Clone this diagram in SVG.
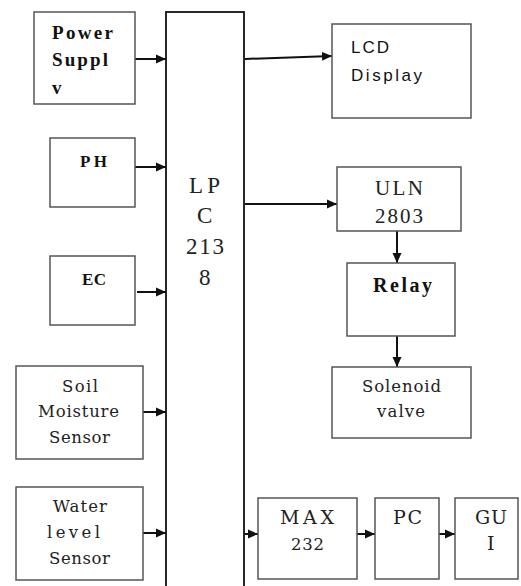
<svg xmlns="http://www.w3.org/2000/svg" width="521" height="586" viewBox="0 0 521 586">
<style>
.box{fill:#fff;stroke:#555;stroke-width:1.5}
.mcu{fill:#fff;stroke:#111;stroke-width:1.8}
.c{stroke:#111;stroke-width:2;fill:none;marker-end:url(#ah)}
.bs{font-family:"Liberation Serif",serif;font-weight:bold;fill:#111}
.s{font-family:"DejaVu Serif",serif;font-size:16.5px;fill:#222}
.s2{font-family:"DejaVu Serif",serif;font-size:19px;fill:#222}
.ss{font-family:"Liberation Sans",sans-serif;font-size:17px;fill:#111}
.ls{font-family:"Liberation Serif",serif;fill:#222}
</style>
<defs>
<marker id="ah" markerUnits="userSpaceOnUse" markerWidth="11" markerHeight="10" refX="10" refY="5" orient="auto">
<path d="M0,0.5 L10,5 L0,9.5 Z" fill="#111"/>
</marker>
</defs>
<g id="connectors">
<line class="c" x1="135" y1="59" x2="166" y2="59"/>
<line class="c" x1="135" y1="167" x2="166" y2="167"/>
<line class="c" x1="137" y1="292" x2="166" y2="292"/>
<line class="c" x1="143" y1="412" x2="166" y2="412"/>
<line class="c" x1="143" y1="533" x2="166" y2="533"/>
<line class="c" x1="245" y1="59" x2="332" y2="56"/>
<line class="c" x1="245" y1="204" x2="337" y2="204"/>
<line class="c" x1="397" y1="231" x2="397" y2="263"/>
<line class="c" x1="397" y1="336" x2="397" y2="367"/>
<line class="c" x1="245" y1="534" x2="258" y2="534"/>
<line class="c" x1="357" y1="534" x2="375" y2="534"/>
<line class="c" x1="439" y1="534" x2="455" y2="534"/>
</g>
<g id="lpc">
<rect class="mcu" x="166" y="12" width="78" height="590"/>
<text class="ls" font-size="23" x="189" y="193" textLength="31">LP</text>
<text class="ls" font-size="23" x="197" y="223">C</text>
<text class="ls" font-size="23" x="186" y="254" textLength="38">213</text>
<text class="ls" font-size="23" x="199" y="285">8</text>
</g>
<g id="power">
<rect class="box" x="34" y="12" width="101" height="92"/>
<text class="bs" font-size="19" x="52" y="39" textLength="61">Power</text>
<text class="bs" font-size="19" x="52" y="66" textLength="56">Suppl</text>
<text class="bs" font-size="19" x="52" y="94">v</text>
</g>
<g id="ph">
<rect class="box" x="50" y="138" width="85" height="69"/>
<text class="bs" font-size="17" x="80" y="167" textLength="27">PH</text>
</g>
<g id="ec">
<rect class="box" x="50" y="256" width="85" height="69"/>
<text class="bs" font-size="17" x="82" y="285" textLength="24">EC</text>
</g>
<g id="soil">
<rect class="box" x="16" y="366" width="127" height="93"/>
<text class="s" x="62" y="392" textLength="36">Soil</text>
<text class="s" x="38" y="417" textLength="81">Moisture</text>
<text class="s" x="49" y="443" textLength="61">Sensor</text>
</g>
<g id="water">
<rect class="box" x="16" y="487" width="127" height="93"/>
<text class="s" x="53" y="512" textLength="54">Water</text>
<text class="s" x="47" y="538" textLength="53">level</text>
<text class="s" x="49" y="564" textLength="61">Sensor</text>
</g>
<g id="lcd">
<rect class="box" x="332" y="24" width="139" height="94"/>
<text class="ss" x="351" y="53" textLength="38">LCD</text>
<text class="ss" x="351" y="81" textLength="71">Display</text>
</g>
<g id="uln">
<rect class="box" x="337" y="167" width="124" height="64"/>
<text class="ls" font-size="21" x="375" y="195" textLength="48">ULN</text>
<text class="ls" font-size="21" x="375" y="223" textLength="48">2803</text>
</g>
<g id="relay">
<rect class="box" x="347" y="263" width="108" height="73"/>
<text class="bs" font-size="20" x="373" y="292" textLength="59">Relay</text>
</g>
<g id="solenoid">
<rect class="box" x="332" y="367" width="139" height="71"/>
<text class="s" x="362" y="392" textLength="79">Solenoid</text>
<text class="s" x="377" y="417" textLength="48">valve</text>
</g>
<g id="max232">
<rect class="box" x="258" y="498" width="99" height="81"/>
<text class="s2" x="280" y="524" textLength="54">MAX</text>
<text class="s" x="291" y="550" textLength="33">232</text>
</g>
<g id="pc">
<rect class="box" x="375" y="498" width="64" height="81"/>
<text class="s2" x="393" y="524" textLength="29">PC</text>
</g>
<g id="gui">
<rect class="box" x="455" y="498" width="63" height="81"/>
<text class="s2" x="475" y="524" textLength="32">GU</text>
<text class="s2" x="487" y="550">I</text>
</g>
</svg>
